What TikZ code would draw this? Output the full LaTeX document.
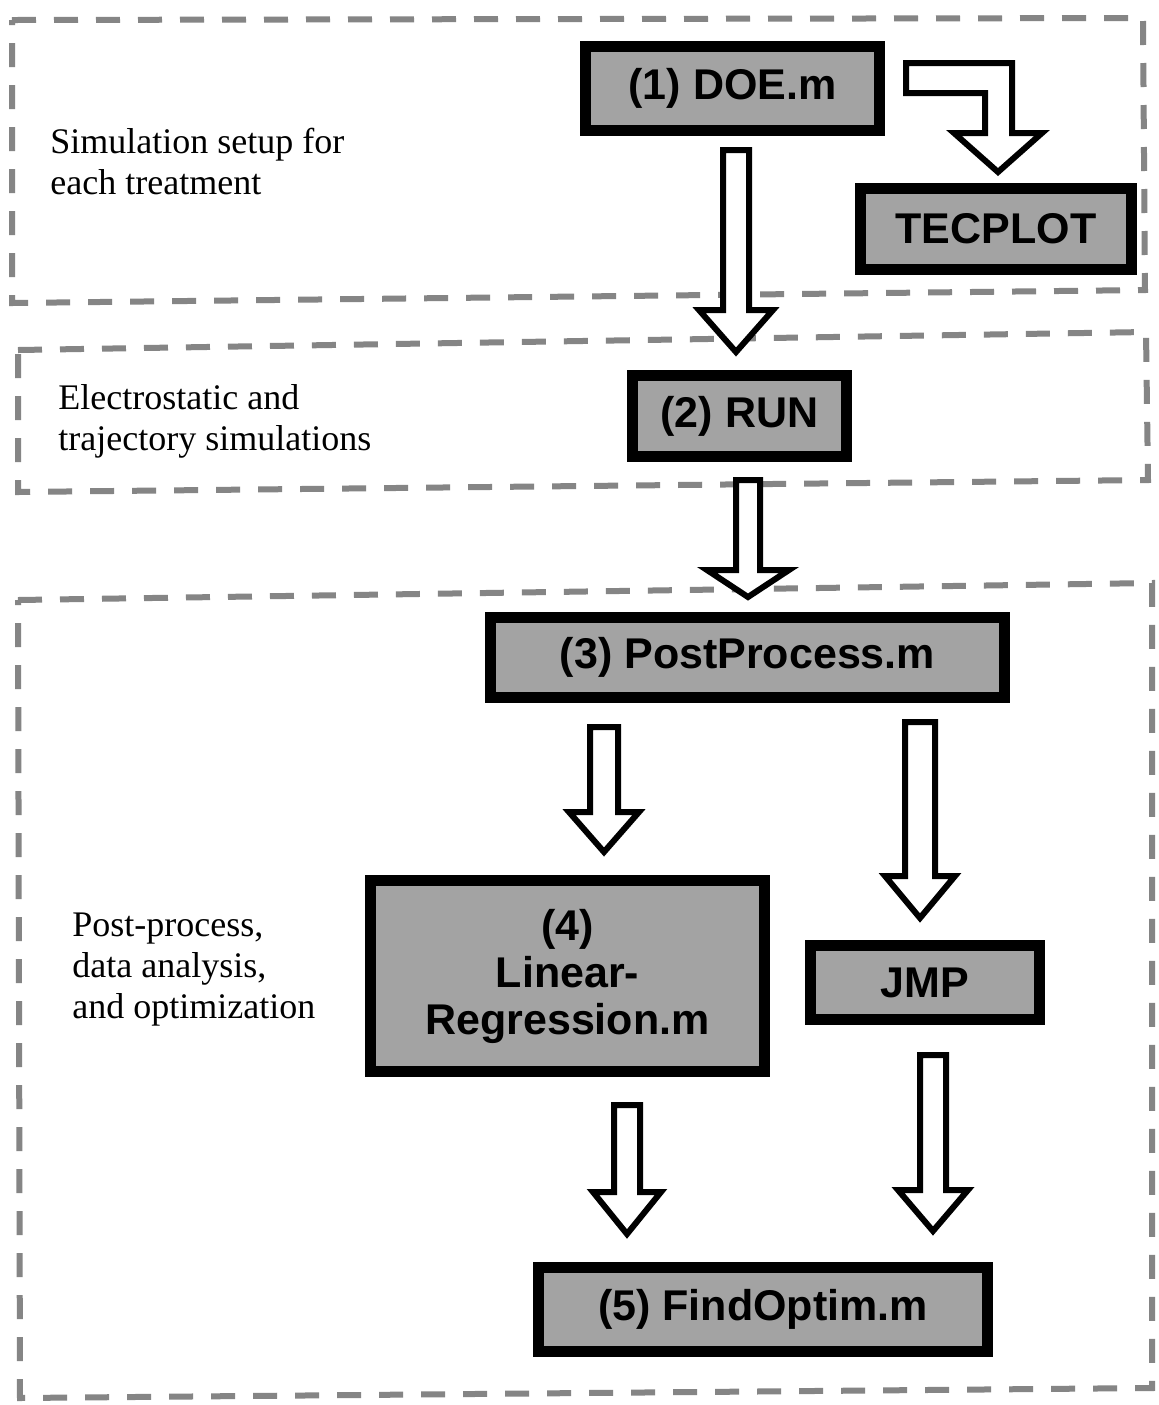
\documentclass[tikz,border=0pt]{standalone}
\usepackage{fontspec}
\setmainfont{Liberation Serif}
\newfontfamily\hv{Liberation Sans}
\usetikzlibrary{calc}
% hollow block arrow pointing down:
% centre x, tail y, head base y, tip y, shaft half width, head half width
\newcommand\hollowdown[6]{%
  \draw[hollow] ({#1-#5},#2) -- ({#1+#5},#2) -- ({#1+#5},#3) -- ({#1+#6},#3)
    -- (#1,#4) -- ({#1-#6},#3) -- ({#1-#5},#3) -- cycle;}
\begin{document}
\begin{tikzpicture}[x=0.5pt,y=-0.5pt,
  region/.style={draw=black!48, line width=3pt, dash pattern=on 12pt off 9pt},
  stage/.style={draw=black, line width=5.5pt, fill=black!36,
    font=\hv\bfseries\fontsize{21.5}{23.5}\selectfont, align=center, inner sep=0pt},
  hollow/.style={draw=black, line width=3pt, fill=white, line join=miter},
  note/.style={font=\fontsize{18}{20.5}\selectfont, align=left, anchor=west, inner sep=0pt}]
\useasboundingbox (0,0) rectangle (1159,1405);
\fill[white] (0,0) rectangle (1159,1405);

% dashed regions
\draw[region] (12,20) -- (1143,18) -- (1145,290) -- (12,303) -- cycle;
\draw[region] (18,350) -- (1146,332) -- (1148,480) -- (18,492) -- cycle;
\draw[region] (18,600) -- (1152,583) -- (1152,1388) -- (20,1398) -- cycle;

% region captions
\node[note] (t1) at (50,161) {Simulation setup for\\each treatment};
\node[note] (t2) at (58,421) {Electrostatic and\\trajectory simulations};
\node[note] (t3) at (72,970) {Post-process,\\data analysis,\\and optimization};

% stages
\node[stage, minimum width=147pt, minimum height=42pt] (doe) at (732.5,88) {(1) DOE.m};
\node[stage, minimum width=135.5pt, minimum height=40.5pt] (tec) at (996,229) {TECPLOT};
\node[stage, minimum width=107pt, minimum height=40.5pt] (run) at (739.5,416) {(2) RUN};
\node[stage, minimum width=257pt, minimum height=40pt] (pp) at (747.5,657.5) {(3) PostProcess.m};
\node[stage, minimum width=197pt, minimum height=95.5pt] (lr) at (567.5,976) {(4)\\Linear-\\Regression.m};
\node[stage, minimum width=114.5pt, minimum height=37pt] (jmp) at (925,982.5) {JMP};
\node[stage, minimum width=224.5pt, minimum height=42pt] (fo) at (763,1309.5) {(5) FindOptim.m};

% flow arrows
\hollowdown{736}{150}{310}{352}{13}{37}   % doe -> run
\hollowdown{748}{480}{570}{597}{12}{41}   % run -> pp
\hollowdown{604}{727}{812}{852}{14}{35}   % pp -> lr
\hollowdown{920}{722}{876}{918}{15}{35}   % pp -> jmp
\hollowdown{627}{1105}{1192}{1234}{13}{34} % lr -> fo
\hollowdown{933}{1055}{1190}{1231}{13}{35} % jmp -> fo
% doe -> tecplot (bent)
\draw[hollow] (906,63) -- (1012,63) -- (1012,133) -- (1042,133) -- (998,172)
  -- (954,133) -- (985,133) -- (985,93) -- (906,93) -- cycle;
\end{tikzpicture}
\end{document}
